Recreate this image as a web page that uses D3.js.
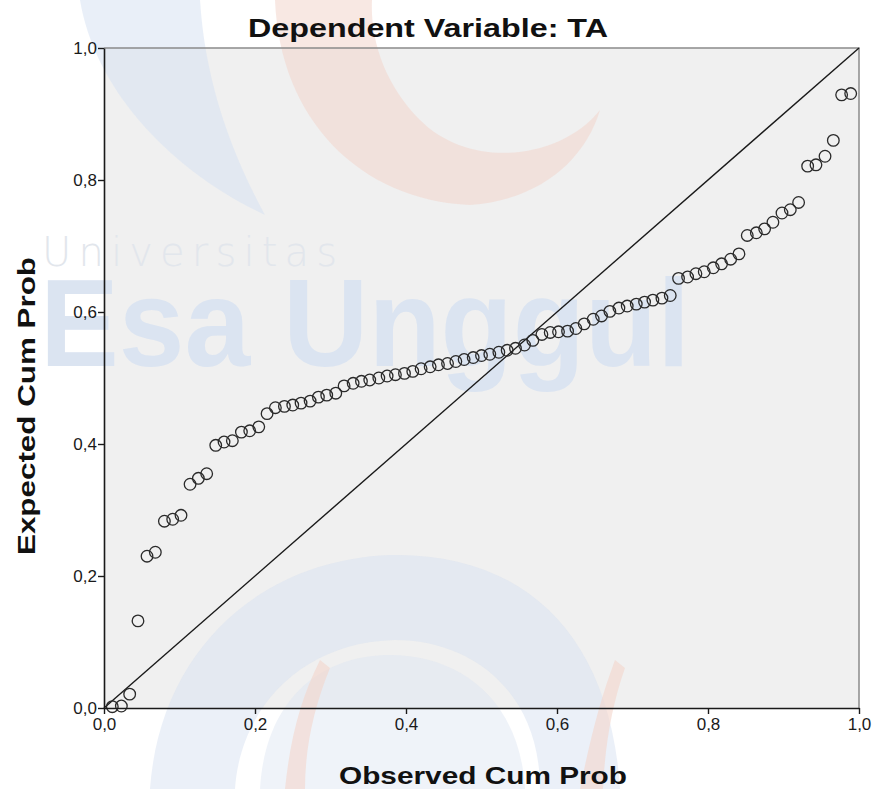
<!DOCTYPE html>
<html>
<head>
<meta charset="utf-8">
<script src="https://cdn.jsdelivr.net/npm/d3@7"></script>
<style>
  html, body { margin: 0; padding: 0; background: #ffffff; }
  svg { display: block; }
</style>
</head>
<body>
<svg id="chart" width="876" height="789"></svg>
<script>
// ---- data ----
const observedCumProb = [
  0.011,0.023,0.034,0.045,0.057,0.068,0.080,0.091,0.102,0.114,
  0.125,0.136,0.148,0.159,0.170,0.182,0.193,0.205,0.216,0.227,
  0.239,0.250,0.261,0.273,0.284,0.295,0.307,0.318,0.330,0.341,
  0.352,0.364,0.375,0.386,0.398,0.409,0.420,0.432,0.443,0.455,
  0.466,0.477,0.489,0.500,0.511,0.523,0.534,0.545,0.557,0.568,
  0.580,0.591,0.602,0.614,0.625,0.636,0.648,0.659,0.670,0.682,
  0.693,0.705,0.716,0.727,0.739,0.750,0.761,0.773,0.784,0.795,
  0.807,0.818,0.830,0.841,0.852,0.864,0.875,0.886,0.898,0.909,
  0.920,0.932,0.943,0.955,0.966,0.977,0.989
];
const expectedCumProb = [
  0.002,0.003,0.021,0.132,0.230,0.236,0.283,0.286,0.292,0.339,
  0.348,0.355,0.398,0.403,0.405,0.418,0.420,0.426,0.446,0.455,
  0.457,0.459,0.462,0.465,0.471,0.474,0.477,0.488,0.492,0.495,
  0.497,0.500,0.503,0.505,0.507,0.510,0.514,0.517,0.520,0.522,
  0.525,0.528,0.531,0.534,0.536,0.539,0.542,0.545,0.550,0.557,
  0.566,0.569,0.570,0.571,0.575,0.582,0.589,0.594,0.601,0.606,
  0.609,0.612,0.615,0.618,0.621,0.625,0.651,0.653,0.658,0.661,
  0.667,0.673,0.680,0.688,0.716,0.720,0.726,0.736,0.750,0.755,
  0.766,0.821,0.823,0.836,0.860,0.929,0.931
];
const tickValues = [0, 0.2, 0.4, 0.6, 0.8, 1.0];
const tickLabels = ["0,0", "0,2", "0,4", "0,6", "0,8", "1,0"];
const referenceLine = [[0, 0], [1, 1]];
const chartTitle = "Dependent Variable: TA";
const xTitle = "Observed Cum Prob";
const yTitle = "Expected Cum Prob";

// ---- layout ----
const svg = d3.select("#chart");
const X0 = 104, X1 = 859, Y0 = 708, Y1 = 48;
const x = d3.scaleLinear().domain([0, 1]).range([X0, X1]);
const y = d3.scaleLinear().domain([0, 1]).range([Y0, Y1]);
const FONT = "'Liberation Sans', Arial, sans-serif";

// plot background
svg.append("rect")
  .attr("x", X0).attr("y", Y1)
  .attr("width", X1 - X0).attr("height", Y0 - Y1)
  .attr("fill", "#f0f0f0");

// ---- watermark (faint logo) ----
const wm = svg.append("g").attr("pointer-events", "none");
// top swooshes
wm.append("path")
  .attr("d", "M 80 0 C 95 90 170 170 265 215 C 230 150 205 80 200 0 Z")
  .attr("fill", "#d7e2f2").attr("opacity", 0.55);
wm.append("path")
  .attr("d", "M 275 0 C 280 120 360 200 470 205 C 540 200 585 160 600 110 C 560 160 470 170 420 120 C 385 85 370 40 372 0 Z")
  .attr("fill", "#f3d6cc").attr("opacity", 0.55);
// bottom rings
wm.append("path")
  .attr("d", "M 150 789 C 160 650 260 560 390 555 C 520 552 610 630 620 789 L 540 789 C 540 690 470 640 395 640 C 300 642 240 710 235 789 Z")
  .attr("fill", "#d7e2f2").attr("opacity", 0.5);
wm.append("path")
  .attr("d", "M 260 789 C 265 700 320 655 390 655 C 460 655 520 700 525 789 Z")
  .attr("fill", "#dce5f2").attr("opacity", 0.45);
wm.append("path")
  .attr("d", "M 285 789 C 290 740 300 700 320 660 L 330 668 C 315 705 305 745 305 789 Z")
  .attr("fill", "#f3d6cc").attr("opacity", 0.6);
wm.append("path")
  .attr("d", "M 580 789 C 590 740 600 700 615 660 L 625 668 C 612 705 605 745 603 789 Z")
  .attr("fill", "#f3d6cc").attr("opacity", 0.6);
// text of the logo
wm.append("text")
  .attr("x", 42).attr("y", 266)
  .attr("font-family", "'DejaVu Sans', sans-serif")
  .attr("font-size", 40).attr("font-weight", 300)
  .attr("textLength", 295).attr("lengthAdjust", "spacing")
  .attr("fill", "#e2e6ec")
  .text("Universitas");
wm.append("text")
  .attr("x", 40).attr("y", 366)
  .attr("font-family", FONT)
  .attr("font-size", 124).attr("font-weight", "bold")
  .attr("textLength", 650).attr("lengthAdjust", "spacingAndGlyphs")
  .attr("fill", "#dbe4f1")
  .text("Esa Unggul");

// plot frame (top / right in grey)
svg.append("path")
  .attr("d", `M ${X0} ${Y1} H ${X1} V ${Y0}`)
  .attr("fill", "none").attr("stroke", "#8a8a8a").attr("stroke-width", 1.5);

// reference diagonal
svg.append("path")
  .datum(referenceLine)
  .attr("d", d3.line().x(d => x(d[0])).y(d => y(d[1])))
  .attr("fill", "none").attr("stroke", "#1a1a1a").attr("stroke-width", 1.4);

// points
svg.append("g").selectAll("circle")
  .data(observedCumProb.map((o, i) => [o, expectedCumProb[i]]))
  .join("circle")
  .attr("cx", d => x(d[0])).attr("cy", d => y(d[1]))
  .attr("r", 5.8)
  .attr("fill", "none").attr("stroke", "#2a2a2a").attr("stroke-width", 1.3);

// axes
const xAxis = d3.axisBottom(x).tickValues(tickValues)
  .tickFormat((d, i) => tickLabels[i]).tickSize(6).tickSizeOuter(0);
const yAxis = d3.axisLeft(y).tickValues(tickValues)
  .tickFormat((d, i) => tickLabels[i]).tickSize(6).tickSizeOuter(0);

const gx = svg.append("g").attr("transform", `translate(0,${Y0})`).call(xAxis);
const gy = svg.append("g").attr("transform", `translate(${X0},0)`).call(yAxis);
[gx, gy].forEach(g => {
  g.select(".domain").attr("stroke", "#1a1a1a").attr("stroke-width", 1.6);
  g.selectAll(".tick line").attr("stroke", "#1a1a1a").attr("stroke-width", 1.4);
  g.selectAll(".tick text")
    .attr("font-family", FONT).attr("font-size", 17).attr("fill", "#1a1a1a");
});
gx.selectAll(".tick text").attr("y", 9).attr("dy", "0.75em");
gy.selectAll(".tick text").attr("x", -7).attr("dy", "0.35em");

// titles
svg.append("text")
  .attr("x", 428).attr("y", 37)
  .attr("text-anchor", "middle")
  .attr("font-family", FONT).attr("font-size", 25).attr("font-weight", "bold")
  .attr("textLength", 360).attr("lengthAdjust", "spacingAndGlyphs")
  .attr("fill", "#111")
  .text(chartTitle);

svg.append("text")
  .attr("x", 483).attr("y", 784)
  .attr("text-anchor", "middle")
  .attr("font-family", FONT).attr("font-size", 24).attr("font-weight", "bold")
  .attr("textLength", 288).attr("lengthAdjust", "spacingAndGlyphs")
  .attr("fill", "#111")
  .text(xTitle);

svg.append("text")
  .attr("transform", "translate(35,406) rotate(-90)")
  .attr("text-anchor", "middle")
  .attr("font-family", FONT).attr("font-size", 23).attr("font-weight", "bold")
  .attr("textLength", 298).attr("lengthAdjust", "spacingAndGlyphs")
  .attr("fill", "#111")
  .text(yTitle);
</script>
</body>
</html>
